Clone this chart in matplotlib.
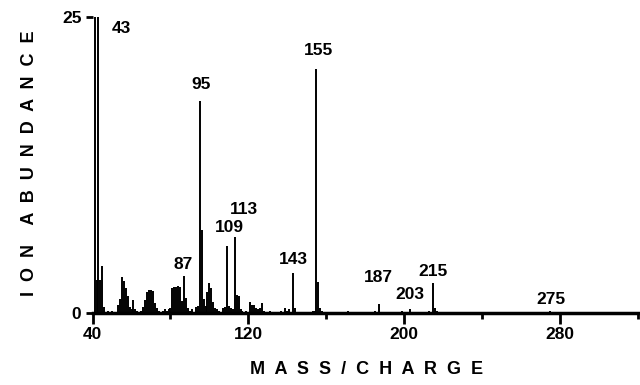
import matplotlib
matplotlib.use('Agg')
import matplotlib.pyplot as plt
from matplotlib.ticker import FixedLocator

plt.rcParams['font.family'] = ['Liberation Sans', 'DejaVu Sans']

# Peak list (m/z, relative abundance, full scale 25)
MZ = [41, 42, 43, 44, 45, 46, 48, 50,
      53, 54, 55, 56, 57, 58, 59, 60, 61, 62, 63, 65, 66, 67, 68, 69, 70,
      71, 72, 73, 74, 76, 77, 78, 79, 80, 81, 82, 83, 84, 85, 86, 87, 88,
      89, 90, 91, 93, 94, 95, 96, 97, 98, 99, 100, 101, 102, 103, 104,
      105, 107, 108, 109, 110, 111, 112, 113, 114, 115, 116, 117, 119,
      121, 122, 123, 124, 125, 126, 127, 128, 131, 135, 137, 139, 140,
      141, 143, 144, 147, 151, 153, 154, 155, 156, 157, 158, 161, 165,
      169, 171, 175, 181, 185, 187, 188, 193, 199, 203, 209, 213, 215,
      216, 217, 229, 241, 253, 262, 275, 290]
ABUNDANCE = [25.5, 2.8, 25.5, 2.8, 4.0, 0.5, 0.2, 0.15,
             0.7, 1.2, 3.0, 2.7, 2.1, 1.4, 0.5, 0.3, 1.1, 0.3, 0.2, 0.2,
             0.5, 1.1, 1.75, 1.95, 1.95, 1.9, 0.85, 0.4, 0.2, 0.2, 0.3,
             0.2, 0.3, 0.4, 2.1, 2.2, 2.2, 2.3, 2.2, 1.0, 3.1, 1.3, 0.4,
             0.2, 0.3, 0.5, 0.6, 17.9, 7.0, 1.2, 0.6, 1.8, 2.5, 2.1, 0.95,
             0.4, 0.3, 0.2, 0.4, 0.5, 5.7, 0.6, 0.4, 0.3, 6.4, 1.5, 1.4,
             0.3, 0.2, 0.2, 0.95, 0.7, 0.68, 0.4, 0.3, 0.4, 0.82, 0.2,
             0.15, 0.1, 0.2, 0.4, 0.2, 0.3, 3.35, 0.4, 0.1, 0.1, 0.15,
             0.2, 20.6, 2.6, 0.4, 0.2, 0.1, 0.1, 0.1, 0.2, 0.1, 0.1, 0.15,
             0.76, 0.1, 0.1, 0.15, 0.36, 0.1, 0.15, 2.5, 0.4, 0.2, 0.1,
             0.1, 0.05, 0.1, 0.15, 0.05]

LABELLED = [43, 87, 95, 109, 113, 143, 155, 187, 203, 215, 275]
# label offsets from peak top, in pixels (dx, dy)
LABEL_OFFSET = {43: (23, -12), 87: (-1, 12), 95: (1, 17), 109: (2, 18),
                113: (9, 28), 143: (0, 14), 155: (2, 19), 187: (0, 27),
                203: (0, 14), 215: (0, 12), 275: (1, 12)}

X_MAJOR = [40, 120, 200, 280]
X_MINOR = [80, 160, 240, 320]
Y_TICKS = [0, 25]


def main():
    fig = plt.figure(figsize=(6.4, 3.85), dpi=100)
    ax = fig.add_axes([0.1447, 0.187, 0.8516, 0.769])

    ax.vlines(MZ, 0, ABUNDANCE, colors='black', linewidth=1.4)
    ax.set_xlim(40, 320)
    ax.set_ylim(0, 25)

    for s in ('top', 'right', 'left'):
        ax.spines[s].set_visible(False)
    ax.spines['bottom'].set_linewidth(2.5)

    ax.xaxis.set_major_locator(FixedLocator(X_MAJOR))
    ax.xaxis.set_minor_locator(FixedLocator(X_MINOR))
    ax.set_yticks(Y_TICKS)
    ax.tick_params(axis='x', which='major', length=8, width=2, pad=2,
                   labelsize=12.5)
    ax.tick_params(axis='x', which='minor', length=4, width=2)
    ax.tick_params(axis='y', length=5, width=2, pad=3, labelsize=12.5)
    for lab in ax.get_xticklabels() + ax.get_yticklabels():
        lab.set_fontweight('bold')

    peak = dict(zip(MZ, ABUNDANCE))
    for mz in LABELLED:
        dx, dy = LABEL_OFFSET[mz]
        ax.annotate(str(mz), (mz, min(peak[mz], 25)), xytext=(dx, dy),
                    textcoords='offset pixels', ha='center', va='center',
                    fontsize=12.5, fontweight='bold', annotation_clip=False)

    fig.text(367 / 640, 1 - 370 / 385, 'M  A  S  S  /  C  H  A  R  G  E',
             ha='center', va='center', fontsize=13, fontweight='bold')
    fig.text(30 / 640, 1 - 163 / 385, 'I  O  N    A  B  U  N  D  A  N  C  E',
             ha='center', va='center', rotation=90, fontsize=13,
             fontweight='bold')

    fig.savefig('out.png', dpi=100)


if __name__ == '__main__':
    main()
